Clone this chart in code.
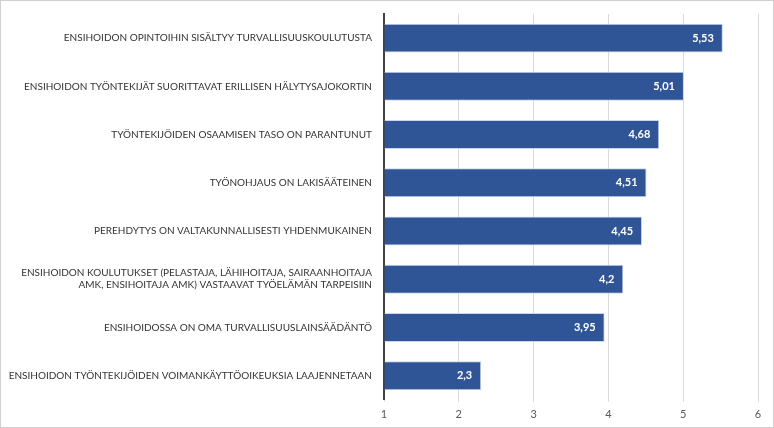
<!DOCTYPE html>
<html>
<head>
<meta charset="utf-8">
<script src="https://cdn.jsdelivr.net/npm/chart.js@4"></script>
<style>
  html, body { margin: 0; padding: 0; background: #fff; }
  #wrap { width: 772px; height: 426px; border: 1px solid #d0d0d0; }
</style>
</head>
<body>
<div id="wrap"><canvas id="myChart" width="772" height="426"></canvas></div>
<script>
const labels = [
    "ENSIHOIDON OPINTOIHIN SISÄLTYY TURVALLISUUSKOULUTUSTA",
    "ENSIHOIDON TYÖNTEKIJÄT SUORITTAVAT ERILLISEN HÄLYTYSAJOKORTIN",
    "TYÖNTEKIJÖIDEN OSAAMISEN TASO ON PARANTUNUT",
    "TYÖNOHJAUS ON LAKISÄÄTEINEN",
    "PEREHDYTYS ON VALTAKUNNALLISESTI YHDENMUKAINEN",
    ["ENSIHOIDON KOULUTUKSET (PELASTAJA, LÄHIHOITAJA, SAIRAANHOITAJA", "AMK, ENSIHOITAJA AMK) VASTAAVAT TYÖELÄMÄN TARPEISIIN"],
    "ENSIHOIDOSSA ON OMA TURVALLISUUSLAINSÄÄDÄNTÖ",
    "ENSIHOIDON TYÖNTEKIJÖIDEN VOIMANKÄYTTÖOIKEUKSIA LAAJENNETAAN",
];
const values = [5.53, 5.01, 4.68, 4.51, 4.45, 4.2, 3.95, 2.3];
const xTicks = [1, 2, 3, 4, 5, 6];

// value labels inside the end of each bar
const barValueLabels = {
    id: "barValueLabels",
    afterDatasetsDraw(chart) {
        const ctx = chart.ctx;
        const meta = chart.getDatasetMeta(0);
        ctx.save();
        ctx.font = "bold 11px Lato";
        ctx.fillStyle = "#ffffff";
        ctx.textAlign = "right";
        ctx.textBaseline = "middle";
        meta.data.forEach((bar, i) => {
            const txt = String(values[i]).replace(".", ",");
            ctx.fillText(txt, bar.x - 9, bar.y);
        });
        ctx.restore();
    },
};

const ctx = document.getElementById("myChart").getContext("2d");
const chart = new window.Chart(ctx, {
    type: "bar",
    data: {
        labels: labels,
        datasets: [
            {
                data: values,
                base: 1,
                backgroundColor: "#2f5597",
                borderColor: "#c9d6ee",
                borderWidth: 1,
                borderSkipped: "start",
                categoryPercentage: 1,
                barPercentage: 0.6,
            },
        ],
    },
    options: {
        indexAxis: "y",
        responsive: false,
        animation: false,
        layout: {
            padding: { top: 13, right: 15, bottom: 0, left: 0 },
        },
        plugins: {
            legend: { display: false },
            tooltip: { enabled: false },
        },
        scales: {
            x: {
                min: 1,
                max: 6,
                afterBuildTicks: (scale) => {
                    scale.ticks = xTicks.map((v) => ({ value: v }));
                },
                grid: {
                    color: "#d9d9d9",
                    tickLength: 2,
                },
                border: { display: false },
                ticks: {
                    color: "#595959",
                    font: { family: "Lato", size: 11 },
                    padding: 6,
                },
            },
            y: {
                afterFit: (scale) => {
                    scale.width = 383;
                },
                grid: { display: false },
                border: { display: true, color: "#404040", width: 2 },
                ticks: {
                    color: "#333333",
                    font: { family: "Lato", size: 10 },
                    padding: 4,
                    autoSkip: false,
                },
            },
        },
    },
    plugins: [barValueLabels],
});
</script>
</body>
</html>
